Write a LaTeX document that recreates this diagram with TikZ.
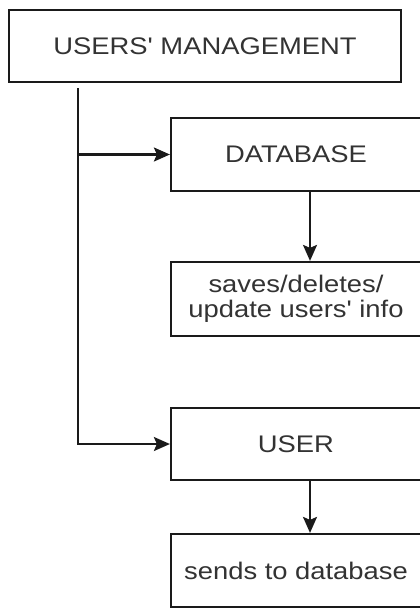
\documentclass[tikz,border=0pt]{standalone}
\usepackage{fontspec}
\setmainfont{Liberation Sans}
\usetikzlibrary{arrows.meta}
\definecolor{ink}{HTML}{1A1A1A}
\definecolor{txt}{HTML}{333333}
\tikzset{
  blk/.style={draw=ink, line width=2.2pt, fill=white, rectangle, inner sep=0pt,
    text=txt, align=center,
    font=\fontsize{24}{25}\selectfont},
  arr/.style={draw=ink, line width=2.2pt, -{Stealth[length=16pt,width=14pt,inset=3pt]}},
}
\newcommand{\wide}[1]{\scalebox{1.14}[1]{#1}}
\newcommand{\apos}{\textquotesingle}
\begin{document}
\begin{tikzpicture}[x=1pt,y=-1pt]
  \useasboundingbox (0,0) rectangle (420,608);
  \clip (0,0) rectangle (420,608);
  \fill[white] (0,0) rectangle (420,608);

  % boxes
  \node[blk, minimum width=392pt, minimum height=72pt] (mgmt) at (205,46) {\wide{USERS\apos{} MANAGEMENT}};
  \node[blk, minimum width=250pt, minimum height=73pt] (db) at (296,154.5) {\wide{DATABASE}};
  \node[blk, minimum width=250pt, minimum height=74pt] (save) at (296,299) {\wide{saves/deletes/}\\\wide{update users\apos{} info}};
  \node[blk, minimum width=250pt, minimum height=72pt] (usr) at (296,444) {\wide{USER}};
  \node[blk, minimum width=250pt, minimum height=73pt] (send) at (296,570.5) {\wide{sends to database}};

  % trunk from the management box
  \coordinate (trunk) at (78,88);
  \coordinate (xa) at (310,0);
  \draw[arr] (trunk) |- (usr.west);
  \draw[arr] (trunk |- db.west) -- (db.west);

  % vertical flows
  \draw[arr] (db.south -| xa) -- (save.north -| xa);
  \draw[arr] (usr.south -| xa) -- (send.north -| xa);
\end{tikzpicture}
\end{document}
